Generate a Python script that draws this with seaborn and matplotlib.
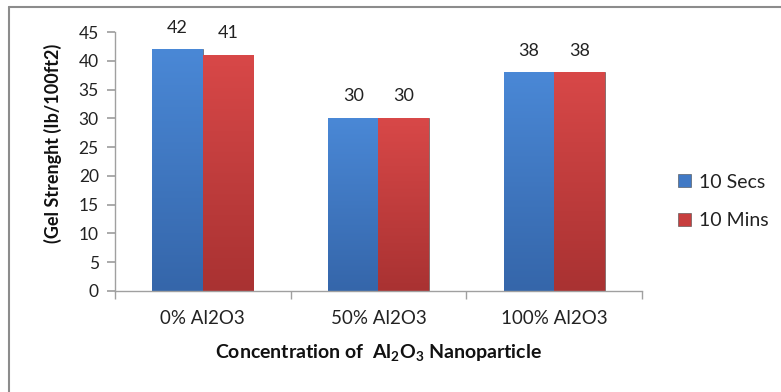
import matplotlib
matplotlib.use("Agg")
import matplotlib.pyplot as plt
import seaborn as sns
import pandas as pd
import numpy as np
from matplotlib.lines import Line2D
from matplotlib.patches import Patch
from matplotlib.colors import LinearSegmentedColormap

categories = ["0% Al2O3", "50% Al2O3", "100% Al2O3"]
series_names = ["10 Secs", "10 Mins"]
secs_values = [42, 30, 38]
mins_values = [41, 30, 38]
y_ticks = [0, 5, 10, 15, 20, 25, 30, 35, 40, 45]

df = pd.DataFrame({
    "category": categories * 2,
    "series": [series_names[0]] * 3 + [series_names[1]] * 3,
    "value": secs_values + mins_values,
})

sns.set_theme(style="white")
plt.rcParams["font.family"] = ["Lato", "DejaVu Sans"]

palette = {"10 Secs": "#4079c5", "10 Mins": "#c73e3e"}
shades = {
    "10 Secs": ("#4a88d6", "#3566aa"),
    "10 Mins": ("#d84848", "#a93232"),
}

fig = plt.figure(figsize=(7.81, 3.92), dpi=100)
ax = fig.add_axes([0.147, 0.258, 0.675, 0.66])

sns.barplot(data=df, x="category", y="value", hue="series", palette=palette,
            width=0.575, ax=ax, legend=False, saturation=1,
            edgecolor="#4a4a4a", linewidth=0.4)

ax.set_ylim(0, 45)
ax.set_xlim(-0.5, 2.5)

# vertical shading on each bar, clipped to the bar outline
for container, name in zip(ax.containers, series_names):
    cmap = LinearSegmentedColormap.from_list(name, [shades[name][1], shades[name][0]])
    grad = np.linspace(0, 1, 128).reshape(-1, 1)
    for bar in container:
        x0, y0 = bar.get_x(), bar.get_y()
        w, h = bar.get_width(), bar.get_height()
        im = ax.imshow(grad, cmap=cmap, origin="lower", aspect="auto",
                       extent=(x0, x0 + w, y0, y0 + h), zorder=bar.get_zorder() + 0.1)
        im.set_clip_path(bar)
    ax.bar_label(container, padding=10, fontsize=13, color="#222222")

ax.set_xlim(-0.5, 2.5)
ax.set_ylim(0, 45)
ax.set_aspect("auto")
ax.set_yticks(y_ticks)
ax.tick_params(axis="y", labelsize=12.5, colors="#222222", length=5.5,
               color="#a0a0a0", direction="out", left=True, pad=6)
ax.set_xticks([0, 1, 2])
ax.set_xticklabels(categories)
ax.tick_params(axis="x", labelsize=13.5, colors="#222222", length=0, pad=14)
# category separator ticks
ax.set_xticks([-0.5, 0.5, 1.5, 2.5], minor=True)
ax.tick_params(axis="x", which="minor", length=6, color="#a0a0a0",
               direction="out", bottom=True)

for side in ["top", "right"]:
    ax.spines[side].set_visible(False)
for side in ["left", "bottom"]:
    ax.spines[side].set_color("#a0a0a0")
    ax.spines[side].set_linewidth(1.0)

# y-axis title placed close to the tick numbers
ax.set_ylabel("")
fig.text(0.068, 0.634, "(Gel Strenght (Ib/100ft2)", rotation=90, ha="center",
         va="center", fontsize=13, fontweight="bold", color="#111111")
ax.set_xlabel(r"Concentration of  Al$_\mathregular{2}$O$_\mathregular{3}$ Nanoparticle",
              fontsize=14, fontweight="bold", color="#111111", labelpad=11)

handles = [Patch(facecolor=palette[s], edgecolor="#4a4a4a", linewidth=0.4, label=s)
           for s in series_names]
fig.legend(handles=handles, loc="center left", bbox_to_anchor=(0.868, 0.486),
           frameon=False, fontsize=14, handlelength=0.65, handleheight=0.65,
           handletextpad=0.45, labelspacing=1.1, labelcolor="#222222",
           borderpad=0, borderaxespad=0)

# chart-area border (left and top edges)
fig.add_artist(Line2D([0.0115, 0.0115], [0.0, 0.982], transform=fig.transFigure,
                      color="#8c8c8c", linewidth=1.5))
fig.add_artist(Line2D([0.0115, 1.0], [0.982, 0.982], transform=fig.transFigure,
                      color="#8c8c8c", linewidth=1.5))

fig.savefig("out.png", dpi=100)
